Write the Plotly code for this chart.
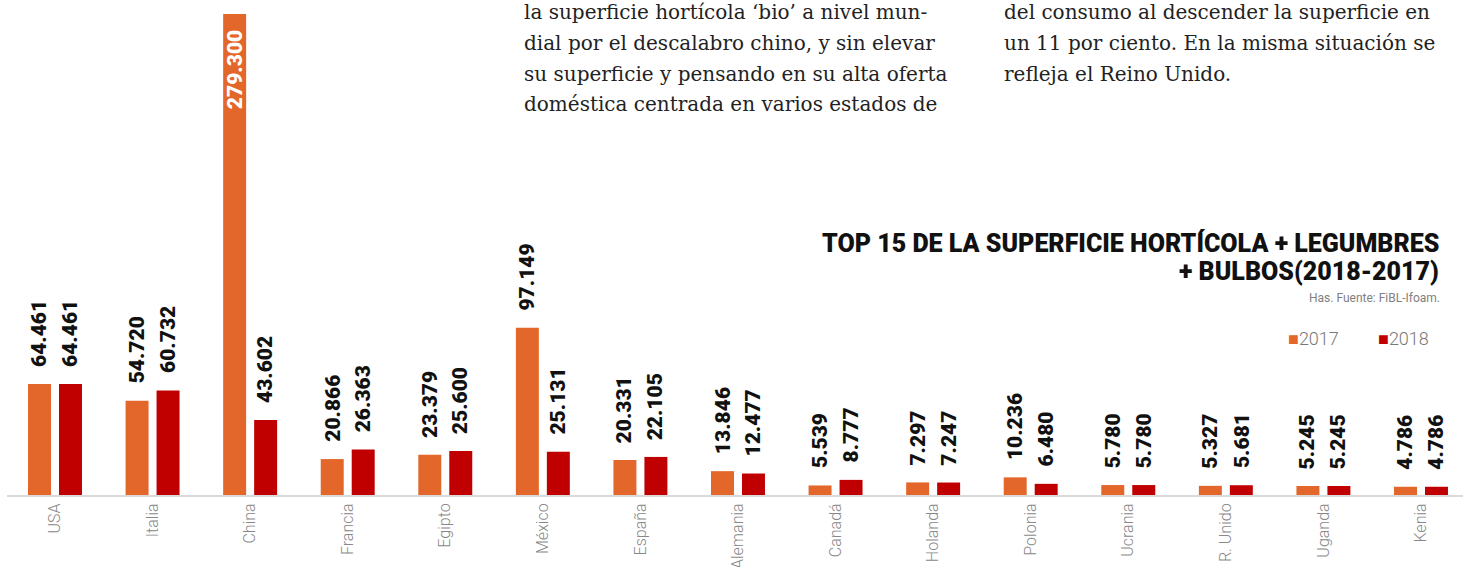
import plotly.graph_objects as go

# ---------------- data ----------------
countries = ["USA", "Italia", "China", "Francia", "Egipto", "México", "España", "Alemania",
             "Canadá", "Holanda", "Polonia", "Ucrania", "R. Unido", "Uganda", "Kenia"]
values_2017 = [64461, 54720, 279300, 20866, 23379, 97149, 20331, 13846,
               5539, 7297, 10236, 5780, 5327, 5245, 4786]
values_2018 = [64461, 60732, 43602, 26363, 25600, 25131, 22105, 12477,
               8777, 7247, 6480, 5780, 5681, 5245, 4786]
series_names = ["2017", "2018"]

title_lines = ["TOP 15 DE LA SUPERFICIE HORTÍCOLA + LEGUMBRES", "+ BULBOS(2018-2017)"]
subtitle = "Has. Fuente: FiBL-Ifoam."
article_col1 = ["la superficie hortícola ‘bio’ a nivel mun-",
                "dial por el descalabro chino, y sin elevar",
                "su superficie y pensando en su alta oferta",
                "doméstica centrada en varios estados de"]
article_col2 = ["del consumo al descender la superficie en",
                "un 11 por ciento. En la misma situación se",
                "refleja el Reino Unido."]

# ---------------- style ----------------
ORANGE = "#E3672B"
RED = "#C00000"
W_PX, H_PX = 1463, 567
L, R, T, B = 7, 0, 14, 72
PW, PH = W_PX - L - R, H_PX - T - B
BARGAP, BARGROUPGAP = 0.365, 0.258
unit = 97.57  # px per category
x0 = -(55 - L) / unit
x_range = [x0, x0 + PW / unit]
slot = (1 - BARGAP) / 2


def px_x(px):
    return (px - L) / PW


def px_y(py):
    return (H_PX - B - py) / PH


def fmt(v):
    return f"{v:,}".replace(",", ".")


fig = go.Figure()
fig.add_trace(go.Bar(x=countries, y=values_2017, name=series_names[0],
                     marker_color=ORANGE, marker_line_width=0, showlegend=False))
fig.add_trace(go.Bar(x=countries, y=values_2018, name=series_names[1],
                     marker_color=RED, marker_line_width=0, showlegend=False))

annotations = []
label_font = dict(family="Roboto", size=21, color="#111111", weight=900)
ymax = max(values_2017 + values_2018)
for i, c in enumerate(countries):
    for vals, off in ((values_2017, -slot / 2), (values_2018, slot / 2)):
        v = vals[i]
        if v == ymax:
            annotations.append(dict(x=i + off, y=v, xref="x", yref="y", text=fmt(v),
                                    textangle=-90, showarrow=False, yanchor="top",
                                    yshift=-14, font=dict(label_font, color="white")))
        else:
            annotations.append(dict(x=i + off, y=v, xref="x", yref="y", text=fmt(v),
                                    textangle=-90, showarrow=False, yanchor="bottom",
                                    yshift=15, font=label_font))

# title
for k, line in enumerate(title_lines):
    annotations.append(dict(x=px_x(1441), y=px_y(243 + 28 * k), xref="paper", yref="paper",
                            text=line, showarrow=False, xanchor="right", yanchor="middle",
                            font=dict(family="Roboto", size=25, color="#111111", weight=900)))
annotations.append(dict(x=px_x(1442), y=px_y(298), xref="paper", yref="paper",
                        text=subtitle, showarrow=False, xanchor="right", yanchor="middle",
                        font=dict(family="Roboto", size=12, color="#808080")))
# legend
for name, col, px in ((series_names[0], ORANGE, 1286), (series_names[1], RED, 1376)):
    annotations.append(dict(x=px_x(px), y=px_y(338), xref="paper", yref="paper",
                            text=f"<span style='color:{col};font-size:18px'>■</span>{name}",
                            showarrow=False, xanchor="left", yanchor="middle",
                            font=dict(family="Roboto", size=18, color="#777777", weight=300)))
# article text
for col_lines, px in ((article_col1, 522), (article_col2, 1002)):
    for k, line in enumerate(col_lines):
        annotations.append(dict(x=px_x(px), y=px_y(12 + 30.8 * k), xref="paper", yref="paper",
                                text=line, showarrow=False, xanchor="left", yanchor="middle",
                                font=dict(family="DejaVu Serif", size=20, color="#222222")))

fig.update_layout(
    template="none",
    width=W_PX, height=H_PX,
    margin=dict(l=L, r=R, t=T, b=B, pad=0),
    paper_bgcolor="white", plot_bgcolor="white",
    barmode="group", bargap=BARGAP, bargroupgap=BARGROUPGAP,
    showlegend=False,
    annotations=annotations,
    xaxis=dict(type="category", range=x_range, showgrid=False, zeroline=False,
               showline=True, linecolor="#DADADA", linewidth=2, ticks="",
               tickangle=-90, tickfont=dict(family="Roboto", size=16, color="#888888", weight=300),
               ticklabelstandoff=0, automargin=False),
    yaxis=dict(range=[0, ymax], visible=False, showgrid=False, zeroline=False),
)

fig.write_html("out.html", config={"displayModeBar": False},
               post_script="document.body.style.margin='0';")
